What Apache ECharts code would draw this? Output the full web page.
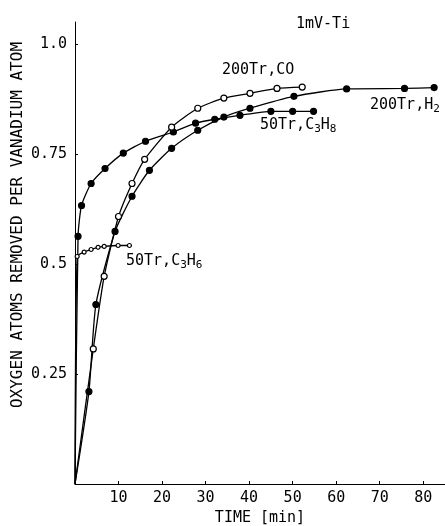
<!DOCTYPE html>
<html>
<head>
<meta charset="utf-8">
<script src="https://cdn.jsdelivr.net/npm/echarts@6/dist/echarts.min.js"></script>
<style>
  html, body { margin: 0; padding: 0; background: #fff; }
  #chart { width: 445px; height: 526px; }
</style>
</head>
<body>
<div id="chart"></div>
<script>
// time [min], oxygen atoms removed per V atom
var h2Time   = [0, 3.2, 4.8, 9.2, 13.1, 17.1, 22.2, 28.2, 34.2, 40.2, 50.3, 62.4, 75.7, 82.5];
var h2Val    = [0, 0.21, 0.408, 0.574, 0.654, 0.713, 0.763, 0.804, 0.834, 0.854, 0.881, 0.898, 0.899, 0.901];
var coTime   = [0, 4.2, 6.7, 10.0, 13.1, 16.0, 22.2, 28.2, 34.2, 40.2, 46.4, 52.2];
var coVal    = [0, 0.307, 0.472, 0.608, 0.683, 0.738, 0.811, 0.854, 0.877, 0.888, 0.899, 0.902];
var c3h8Time = [0, 0.7, 1.5, 3.7, 6.9, 11.1, 16.2, 22.6, 27.7, 32.1, 37.9, 45.0, 50.0, 54.8];
var c3h8Val  = [0, 0.563, 0.633, 0.683, 0.717, 0.752, 0.779, 0.80, 0.82, 0.829, 0.838, 0.847, 0.847, 0.847];
var c3h6Time = [0, 0.5, 2.1, 3.7, 5.3, 6.7, 9.9, 12.5];
var c3h6Val  = [0, 0.517, 0.527, 0.533, 0.538, 0.540, 0.542, 0.542];
var yTicks = ['1.0', '0.75', '0.5', '0.25'];

var font = 'DejaVu Sans Mono';

// origin is the start of each run, no marker drawn there
function pairs(t, v) {
  return t.map(function(x, i) {
    return i === 0 ? { value: [x, v[i]], symbol: 'none' } : [x, v[i]];
  });
}

function makeSeries(name, t, v, hollow, size) {
  return {
    name: name,
    type: 'line',
    data: pairs(t, v),
    smooth: 0.2,
    symbol: 'circle',
    symbolSize: size,
    showAllSymbol: true,
    itemStyle: { color: hollow ? '#fff' : '#000', borderColor: '#000', borderWidth: 1.2 },
    lineStyle: { color: '#000', width: 1.3 },
    emphasis: { disabled: true },
    z: hollow ? 3 : 2
  };
}

var sub = { fontFamily: font, fontSize: 11, color: '#000', padding: [8, 0, 0, 0] };
var big = { fontFamily: font, fontSize: 15, color: '#000' };

var chart = echarts.init(document.getElementById('chart'));
chart.setOption({
  animation: false,
  grid: { left: 75, right: 0, top: 22, bottom: 42, outerBoundsMode: 'none', containLabel: false },
  xAxis: {
    type: 'value', min: 0, max: 85, interval: 10,
    name: 'TIME [min]', nameLocation: 'middle', nameGap: 26,
    nameTextStyle: { fontFamily: font, fontSize: 15, color: '#000' },
    axisLine: { lineStyle: { color: '#000', width: 1 } },
    axisTick: { inside: true, length: 3, lineStyle: { color: '#000' } },
    axisLabel: { fontFamily: font, fontSize: 15, color: '#000', margin: 7,
      showMaxLabel: false,
      formatter: function(v) { return v === 0 || v % 10 !== 0 ? '' : v; } },
    splitLine: { show: false }
  },
  yAxis: {
    type: 'value', min: 0, max: 1.05, interval: 0.25,
    axisLine: { show: true, lineStyle: { color: '#000', width: 1 } },
    axisTick: { show: true, inside: true, length: 3, lineStyle: { color: '#000' } },
    axisLabel: { fontFamily: font, fontSize: 15, color: '#000', margin: 8,
      showMaxLabel: false, padding: [3, 0, 0, 0],
      formatter: function(v) {
        var i = [1, 0.75, 0.5, 0.25].indexOf(v);
        return i < 0 ? '' : yTicks[i];
      } },
    splitLine: { show: false }
  },
  series: [
    makeSeries('200Tr,H2', h2Time, h2Val, false, 6),
    makeSeries('200Tr,CO', coTime, coVal, true, 6),
    makeSeries('50Tr,C3H8', c3h8Time, c3h8Val, false, 6),
    makeSeries('50Tr,C3H6', c3h6Time, c3h6Val, true, 4)
  ],
  graphic: [
    { type: 'text', x: 18, y: 225, rotation: Math.PI / 2,
      style: { text: 'OXYGEN ATOMS REMOVED PER VANADIUM ATOM', font: '16px ' + font, fill: '#000',
        align: 'center', verticalAlign: 'middle' } },
    { type: 'text', left: 296, top: 17, style: { text: '1mV-Ti', font: '15px ' + font, fill: '#000' } },
    { type: 'text', left: 222, top: 63, style: { text: '200Tr,CO', font: '15px ' + font, fill: '#000' } },
    { type: 'text', left: 370, top: 98, style: { text: '{b|200Tr,H}{s|2}', rich: { b: big, s: sub } } },
    { type: 'text', left: 260, top: 118, style: { text: '{b|50Tr,C}{s|3}{b|H}{s|8}', rich: { b: big, s: sub } } },
    { type: 'text', left: 126, top: 254, style: { text: '{b|50Tr,C}{s|3}{b|H}{s|6}', rich: { b: big, s: sub } } }
  ]
});
</script>
</body>
</html>
